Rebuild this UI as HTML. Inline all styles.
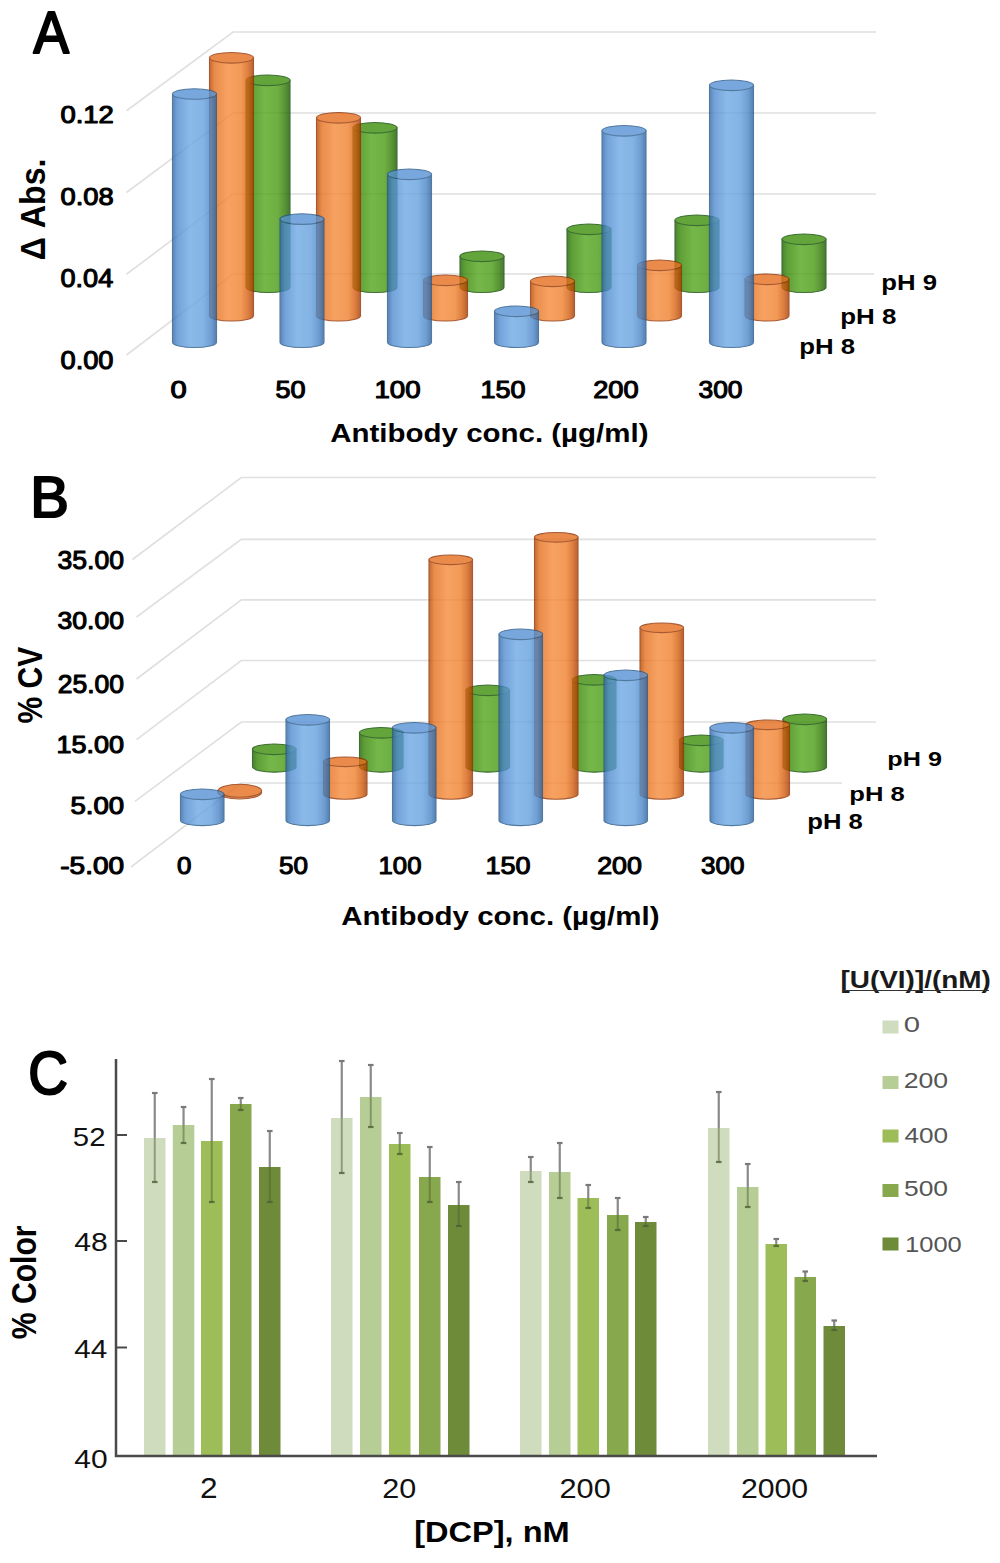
<!DOCTYPE html><html><head><meta charset="utf-8"><style>
html,body{margin:0;padding:0;background:#fff;width:1000px;height:1563px;overflow:hidden}
svg{display:block;font-family:"Liberation Sans", sans-serif}
</style></head><body>
<svg width="1000" height="1563" viewBox="0 0 1000 1563">
<defs><linearGradient id="grb" x1="0" x2="1" y1="0" y2="0"><stop offset="0" stop-color="#3168A6"/><stop offset="0.12" stop-color="#518DD1"/><stop offset="0.4" stop-color="#6EA9E5"/><stop offset="0.7" stop-color="#65A1DE"/><stop offset="0.88" stop-color="#4A86C7"/><stop offset="1" stop-color="#2B609F"/></linearGradient><linearGradient id="gro" x1="0" x2="1" y1="0" y2="0"><stop offset="0" stop-color="#B54500"/><stop offset="0.12" stop-color="#E5711F"/><stop offset="0.42" stop-color="#F68B3B"/><stop offset="0.72" stop-color="#F0812D"/><stop offset="0.88" stop-color="#D45E0F"/><stop offset="1" stop-color="#A63B00"/></linearGradient><linearGradient id="grg" x1="0" x2="1" y1="0" y2="0"><stop offset="0" stop-color="#1D6300"/><stop offset="0.12" stop-color="#388806"/><stop offset="0.42" stop-color="#54A61D"/><stop offset="0.72" stop-color="#4A9C14"/><stop offset="0.88" stop-color="#317B03"/><stop offset="1" stop-color="#175900"/></linearGradient></defs>
<rect width="1000" height="1563" fill="#fff"/>

<path d="M126.5,110.7 L233,32 L876,32" fill="none" stroke="#E0E0E0" stroke-width="1.7"/>
<path d="M126.5,192.5 L233,113 L876,113" fill="none" stroke="#E0E0E0" stroke-width="1.7"/>
<path d="M126.5,274.3 L233,194 L876,194" fill="none" stroke="#E0E0E0" stroke-width="1.7"/>
<path d="M126.5,355 L233,274 L874,274" fill="none" stroke="#E0E0E0" stroke-width="1.7"/>
<g opacity="0.8"><path d="M246.0,80.3 L246.0,287.2 A22.0,5.3 0 0 0 290.0,287.2 L290.0,80.3 Z" fill="url(#grg)" stroke="#0D4A00" stroke-width="1.1"/><ellipse cx="268.0" cy="80.3" rx="22.0" ry="5.3" fill="#3D8E0B" stroke="#0D4A00" stroke-width="1.1"/></g>
<g opacity="0.8"><path d="M353.0,127.8 L353.0,287.2 A22.0,5.3 0 0 0 397.0,287.2 L397.0,127.8 Z" fill="url(#grg)" stroke="#0D4A00" stroke-width="1.1"/><ellipse cx="375.0" cy="127.8" rx="22.0" ry="5.3" fill="#3D8E0B" stroke="#0D4A00" stroke-width="1.1"/></g>
<g opacity="0.8"><path d="M460.0,256.3 L460.0,287.2 A22.0,5.3 0 0 0 504.0,287.2 L504.0,256.3 Z" fill="url(#grg)" stroke="#0D4A00" stroke-width="1.1"/><ellipse cx="482.0" cy="256.3" rx="22.0" ry="5.3" fill="#3D8E0B" stroke="#0D4A00" stroke-width="1.1"/></g>
<g opacity="0.8"><path d="M567.0,229.3 L567.0,287.2 A22.0,5.3 0 0 0 611.0,287.2 L611.0,229.3 Z" fill="url(#grg)" stroke="#0D4A00" stroke-width="1.1"/><ellipse cx="589.0" cy="229.3" rx="22.0" ry="5.3" fill="#3D8E0B" stroke="#0D4A00" stroke-width="1.1"/></g>
<g opacity="0.8"><path d="M675.0,220.3 L675.0,287.2 A22.0,5.3 0 0 0 719.0,287.2 L719.0,220.3 Z" fill="url(#grg)" stroke="#0D4A00" stroke-width="1.1"/><ellipse cx="697.0" cy="220.3" rx="22.0" ry="5.3" fill="#3D8E0B" stroke="#0D4A00" stroke-width="1.1"/></g>
<g opacity="0.8"><path d="M782.0,239.3 L782.0,287.2 A22.0,5.3 0 0 0 826.0,287.2 L826.0,239.3 Z" fill="url(#grg)" stroke="#0D4A00" stroke-width="1.1"/><ellipse cx="804.0" cy="239.3" rx="22.0" ry="5.3" fill="#3D8E0B" stroke="#0D4A00" stroke-width="1.1"/></g>
<g opacity="0.8"><path d="M209.5,57.8 L209.5,315.7 A22.0,5.3 0 0 0 253.5,315.7 L253.5,57.8 Z" fill="url(#gro)" stroke="#923100" stroke-width="1.1"/><ellipse cx="231.5" cy="57.8" rx="22.0" ry="5.3" fill="#E56F1F" stroke="#923100" stroke-width="1.1"/></g>
<g opacity="0.8"><path d="M316.5,117.8 L316.5,315.7 A22.0,5.3 0 0 0 360.5,315.7 L360.5,117.8 Z" fill="url(#gro)" stroke="#923100" stroke-width="1.1"/><ellipse cx="338.5" cy="117.8" rx="22.0" ry="5.3" fill="#E56F1F" stroke="#923100" stroke-width="1.1"/></g>
<g opacity="0.8"><path d="M423.5,280.3 L423.5,315.7 A22.0,5.3 0 0 0 467.5,315.7 L467.5,280.3 Z" fill="url(#gro)" stroke="#923100" stroke-width="1.1"/><ellipse cx="445.5" cy="280.3" rx="22.0" ry="5.3" fill="#E56F1F" stroke="#923100" stroke-width="1.1"/></g>
<g opacity="0.8"><path d="M530.5,281.3 L530.5,315.7 A22.0,5.3 0 0 0 574.5,315.7 L574.5,281.3 Z" fill="url(#gro)" stroke="#923100" stroke-width="1.1"/><ellipse cx="552.5" cy="281.3" rx="22.0" ry="5.3" fill="#E56F1F" stroke="#923100" stroke-width="1.1"/></g>
<g opacity="0.8"><path d="M637.5,265.3 L637.5,315.7 A22.0,5.3 0 0 0 681.5,315.7 L681.5,265.3 Z" fill="url(#gro)" stroke="#923100" stroke-width="1.1"/><ellipse cx="659.5" cy="265.3" rx="22.0" ry="5.3" fill="#E56F1F" stroke="#923100" stroke-width="1.1"/></g>
<g opacity="0.8"><path d="M745.0,279.3 L745.0,315.7 A22.0,5.3 0 0 0 789.0,315.7 L789.0,279.3 Z" fill="url(#gro)" stroke="#923100" stroke-width="1.1"/><ellipse cx="767.0" cy="279.3" rx="22.0" ry="5.3" fill="#E56F1F" stroke="#923100" stroke-width="1.1"/></g>
<g opacity="0.8"><path d="M172.5,94.0 L172.5,342.2 A22.0,5.3 0 0 0 216.5,342.2 L216.5,94.0 Z" fill="url(#grb)" stroke="#275887" stroke-width="1.1"/><ellipse cx="194.5" cy="94.0" rx="22.0" ry="5.3" fill="#5692D4" stroke="#275887" stroke-width="1.1"/></g>
<g opacity="0.8"><path d="M280.0,219.1 L280.0,342.2 A22.0,5.3 0 0 0 324.0,342.2 L324.0,219.1 Z" fill="url(#grb)" stroke="#275887" stroke-width="1.1"/><ellipse cx="302.0" cy="219.1" rx="22.0" ry="5.3" fill="#5692D4" stroke="#275887" stroke-width="1.1"/></g>
<g opacity="0.8"><path d="M387.5,174.3 L387.5,342.2 A22.0,5.3 0 0 0 431.5,342.2 L431.5,174.3 Z" fill="url(#grb)" stroke="#275887" stroke-width="1.1"/><ellipse cx="409.5" cy="174.3" rx="22.0" ry="5.3" fill="#5692D4" stroke="#275887" stroke-width="1.1"/></g>
<g opacity="0.8"><path d="M494.5,311.3 L494.5,342.2 A22.0,5.3 0 0 0 538.5,342.2 L538.5,311.3 Z" fill="url(#grb)" stroke="#275887" stroke-width="1.1"/><ellipse cx="516.5" cy="311.3" rx="22.0" ry="5.3" fill="#5692D4" stroke="#275887" stroke-width="1.1"/></g>
<g opacity="0.8"><path d="M602.0,130.8 L602.0,342.2 A22.0,5.3 0 0 0 646.0,342.2 L646.0,130.8 Z" fill="url(#grb)" stroke="#275887" stroke-width="1.1"/><ellipse cx="624.0" cy="130.8" rx="22.0" ry="5.3" fill="#5692D4" stroke="#275887" stroke-width="1.1"/></g>
<g opacity="0.8"><path d="M709.5,85.3 L709.5,342.2 A22.0,5.3 0 0 0 753.5,342.2 L753.5,85.3 Z" fill="url(#grb)" stroke="#275887" stroke-width="1.1"/><ellipse cx="731.5" cy="85.3" rx="22.0" ry="5.3" fill="#5692D4" stroke="#275887" stroke-width="1.1"/></g>
<text x="33.50" y="52.90" font-size="59.30" font-weight="normal" fill="#000" stroke="#000" stroke-width="2.2" stroke-linejoin="round" textLength="35.51" lengthAdjust="spacingAndGlyphs">A</text>
<text x="60.48" y="123.22" font-size="23.87" font-weight="normal" fill="#000" stroke="#000" stroke-width="1.1" stroke-linejoin="round" textLength="53.35" lengthAdjust="spacingAndGlyphs">0.12</text>
<text x="60.48" y="205.21" font-size="24.58" font-weight="normal" fill="#000" stroke="#000" stroke-width="1.1" stroke-linejoin="round" textLength="53.15" lengthAdjust="spacingAndGlyphs">0.08</text>
<text x="60.49" y="287.20" font-size="25.99" font-weight="normal" fill="#000" stroke="#000" stroke-width="1.1" stroke-linejoin="round" textLength="52.75" lengthAdjust="spacingAndGlyphs">0.04</text>
<text x="60.49" y="368.70" font-size="25.28" font-weight="normal" fill="#000" stroke="#000" stroke-width="1.1" stroke-linejoin="round" textLength="53.03" lengthAdjust="spacingAndGlyphs">0.00</text>
<text x="170.41" y="398.22" font-size="23.87" font-weight="normal" fill="#000" stroke="#000" stroke-width="1.1" stroke-linejoin="round" textLength="16.17" lengthAdjust="spacingAndGlyphs">0</text>
<text x="275.47" y="398.22" font-size="23.87" font-weight="normal" fill="#000" stroke="#000" stroke-width="1.1" stroke-linejoin="round" textLength="30.04" lengthAdjust="spacingAndGlyphs">50</text>
<text x="374.45" y="398.22" font-size="23.87" font-weight="normal" fill="#000" stroke="#000" stroke-width="1.1" stroke-linejoin="round" textLength="46.08" lengthAdjust="spacingAndGlyphs">100</text>
<text x="480.50" y="398.22" font-size="23.87" font-weight="normal" fill="#000" stroke="#000" stroke-width="1.1" stroke-linejoin="round" textLength="45.01" lengthAdjust="spacingAndGlyphs">150</text>
<text x="593.18" y="398.22" font-size="23.87" font-weight="normal" fill="#000" stroke="#000" stroke-width="1.1" stroke-linejoin="round" textLength="45.33" lengthAdjust="spacingAndGlyphs">200</text>
<text x="698.55" y="398.22" font-size="23.87" font-weight="normal" fill="#000" stroke="#000" stroke-width="1.1" stroke-linejoin="round" textLength="43.93" lengthAdjust="spacingAndGlyphs">300</text>
<text x="330.27" y="442.00" font-size="26.22" font-weight="bold" fill="#000" textLength="318.20" lengthAdjust="spacingAndGlyphs">Antibody conc. (µg/ml)</text>
<text transform="rotate(-90)" x="-260.30" y="44.95" font-size="35.81" font-weight="bold" fill="#000" textLength="101.82" lengthAdjust="spacingAndGlyphs">Δ Abs.</text>
<text x="881.31" y="290.00" font-size="21.48" font-weight="bold" fill="#000" textLength="55.65" lengthAdjust="spacingAndGlyphs">pH 9</text>
<text x="840.29" y="324.00" font-size="22.91" font-weight="bold" fill="#000" textLength="56.10" lengthAdjust="spacingAndGlyphs">pH 8</text>
<text x="799.30" y="354.00" font-size="21.48" font-weight="bold" fill="#000" textLength="55.89" lengthAdjust="spacingAndGlyphs">pH 8</text>
<path d="M132.5,559.5 L241.3,477.5 L876,477.5" fill="none" stroke="#E0E0E0" stroke-width="1.7"/>
<path d="M136.5,617 L241.3,539.3 L876,539.3" fill="none" stroke="#E0E0E0" stroke-width="1.7"/>
<path d="M136.5,679 L241.3,599.8 L876,599.8" fill="none" stroke="#E0E0E0" stroke-width="1.7"/>
<path d="M136.5,739.6 L241.3,660.5 L876,660.5" fill="none" stroke="#E0E0E0" stroke-width="1.7"/>
<path d="M135,801.4 L241.3,722 L876,722" fill="none" stroke="#E0E0E0" stroke-width="1.7"/>
<path d="M131,867 L241.3,783 L842,783" fill="none" stroke="#E0E0E0" stroke-width="1.7"/>
<g opacity="0.8"><path d="M252.5,749.3 L252.5,767.2 A21.8,5.3 0 0 0 296.0,767.2 L296.0,749.3 Z" fill="url(#grg)" stroke="#0D4A00" stroke-width="1.1"/><ellipse cx="274.2" cy="749.3" rx="21.8" ry="5.3" fill="#3D8E0B" stroke="#0D4A00" stroke-width="1.1"/></g>
<g opacity="0.8"><path d="M359.5,732.8 L359.5,767.2 A21.8,5.3 0 0 0 403.0,767.2 L403.0,732.8 Z" fill="url(#grg)" stroke="#0D4A00" stroke-width="1.1"/><ellipse cx="381.2" cy="732.8" rx="21.8" ry="5.3" fill="#3D8E0B" stroke="#0D4A00" stroke-width="1.1"/></g>
<g opacity="0.8"><path d="M466.0,690.3 L466.0,767.2 A21.8,5.3 0 0 0 509.5,767.2 L509.5,690.3 Z" fill="url(#grg)" stroke="#0D4A00" stroke-width="1.1"/><ellipse cx="487.8" cy="690.3" rx="21.8" ry="5.3" fill="#3D8E0B" stroke="#0D4A00" stroke-width="1.1"/></g>
<g opacity="0.8"><path d="M572.5,679.8 L572.5,767.2 A21.8,5.3 0 0 0 616.0,767.2 L616.0,679.8 Z" fill="url(#grg)" stroke="#0D4A00" stroke-width="1.1"/><ellipse cx="594.2" cy="679.8" rx="21.8" ry="5.3" fill="#3D8E0B" stroke="#0D4A00" stroke-width="1.1"/></g>
<g opacity="0.8"><path d="M679.5,740.3 L679.5,767.2 A21.8,5.3 0 0 0 723.0,767.2 L723.0,740.3 Z" fill="url(#grg)" stroke="#0D4A00" stroke-width="1.1"/><ellipse cx="701.2" cy="740.3" rx="21.8" ry="5.3" fill="#3D8E0B" stroke="#0D4A00" stroke-width="1.1"/></g>
<g opacity="0.8"><path d="M783.0,719.3 L783.0,767.2 A21.8,5.3 0 0 0 826.5,767.2 L826.5,719.3 Z" fill="url(#grg)" stroke="#0D4A00" stroke-width="1.1"/><ellipse cx="804.8" cy="719.3" rx="21.8" ry="5.3" fill="#3D8E0B" stroke="#0D4A00" stroke-width="1.1"/></g>
<g opacity="0.8"><path d="M218.0,790.8 L218.0,793.0 A21.8,6.5 0 0 0 261.5,793.0 L261.5,790.8 Z" fill="url(#gro)" stroke="#923100" stroke-width="1.1"/><ellipse cx="239.8" cy="790.8" rx="21.8" ry="6.5" fill="#E56F1F" stroke="#923100" stroke-width="1.1"/></g>
<g opacity="0.8"><path d="M323.5,761.8 L323.5,794.7 A21.8,4.8 0 0 0 367.0,794.7 L367.0,761.8 Z" fill="url(#gro)" stroke="#923100" stroke-width="1.1"/><ellipse cx="345.2" cy="761.8" rx="21.8" ry="4.8" fill="#E56F1F" stroke="#923100" stroke-width="1.1"/></g>
<g opacity="0.8"><path d="M429.0,559.8 L429.0,794.7 A21.8,4.8 0 0 0 472.5,794.7 L472.5,559.8 Z" fill="url(#gro)" stroke="#923100" stroke-width="1.1"/><ellipse cx="450.8" cy="559.8" rx="21.8" ry="4.8" fill="#E56F1F" stroke="#923100" stroke-width="1.1"/></g>
<g opacity="0.8"><path d="M534.5,537.3 L534.5,794.7 A21.8,4.8 0 0 0 578.0,794.7 L578.0,537.3 Z" fill="url(#gro)" stroke="#923100" stroke-width="1.1"/><ellipse cx="556.2" cy="537.3" rx="21.8" ry="4.8" fill="#E56F1F" stroke="#923100" stroke-width="1.1"/></g>
<g opacity="0.8"><path d="M640.0,627.8 L640.0,794.7 A21.8,4.8 0 0 0 683.5,794.7 L683.5,627.8 Z" fill="url(#gro)" stroke="#923100" stroke-width="1.1"/><ellipse cx="661.8" cy="627.8" rx="21.8" ry="4.8" fill="#E56F1F" stroke="#923100" stroke-width="1.1"/></g>
<g opacity="0.8"><path d="M746.0,724.8 L746.0,794.7 A21.8,4.8 0 0 0 789.5,794.7 L789.5,724.8 Z" fill="url(#gro)" stroke="#923100" stroke-width="1.1"/><ellipse cx="767.8" cy="724.8" rx="21.8" ry="4.8" fill="#E56F1F" stroke="#923100" stroke-width="1.1"/></g>
<g opacity="0.8"><path d="M180.5,794.3 L180.5,820.7 A21.8,5.3 0 0 0 224.0,820.7 L224.0,794.3 Z" fill="url(#grb)" stroke="#275887" stroke-width="1.1"/><ellipse cx="202.2" cy="794.3" rx="21.8" ry="5.3" fill="#5692D4" stroke="#275887" stroke-width="1.1"/></g>
<g opacity="0.8"><path d="M286.0,719.8 L286.0,820.7 A21.8,5.3 0 0 0 329.5,820.7 L329.5,719.8 Z" fill="url(#grb)" stroke="#275887" stroke-width="1.1"/><ellipse cx="307.8" cy="719.8" rx="21.8" ry="5.3" fill="#5692D4" stroke="#275887" stroke-width="1.1"/></g>
<g opacity="0.8"><path d="M392.5,727.8 L392.5,820.7 A21.8,5.3 0 0 0 436.0,820.7 L436.0,727.8 Z" fill="url(#grb)" stroke="#275887" stroke-width="1.1"/><ellipse cx="414.2" cy="727.8" rx="21.8" ry="5.3" fill="#5692D4" stroke="#275887" stroke-width="1.1"/></g>
<g opacity="0.8"><path d="M499.0,634.3 L499.0,820.7 A21.8,5.3 0 0 0 542.5,820.7 L542.5,634.3 Z" fill="url(#grb)" stroke="#275887" stroke-width="1.1"/><ellipse cx="520.8" cy="634.3" rx="21.8" ry="5.3" fill="#5692D4" stroke="#275887" stroke-width="1.1"/></g>
<g opacity="0.8"><path d="M604.0,675.3 L604.0,820.7 A21.8,5.3 0 0 0 647.5,820.7 L647.5,675.3 Z" fill="url(#grb)" stroke="#275887" stroke-width="1.1"/><ellipse cx="625.8" cy="675.3" rx="21.8" ry="5.3" fill="#5692D4" stroke="#275887" stroke-width="1.1"/></g>
<g opacity="0.8"><path d="M710.0,727.8 L710.0,820.7 A21.8,5.3 0 0 0 753.5,820.7 L753.5,727.8 Z" fill="url(#grb)" stroke="#275887" stroke-width="1.1"/><ellipse cx="731.8" cy="727.8" rx="21.8" ry="5.3" fill="#5692D4" stroke="#275887" stroke-width="1.1"/></g>
<text x="30.35" y="516.90" font-size="57.85" font-weight="normal" fill="#000" stroke="#000" stroke-width="2.2" stroke-linejoin="round" textLength="38.60" lengthAdjust="spacingAndGlyphs">B</text>
<text x="57.54" y="569.20" font-size="25.99" font-weight="normal" fill="#000" stroke="#000" stroke-width="1.1" stroke-linejoin="round" textLength="66.45" lengthAdjust="spacingAndGlyphs">35.00</text>
<text x="57.54" y="629.21" font-size="24.58" font-weight="normal" fill="#000" stroke="#000" stroke-width="1.1" stroke-linejoin="round" textLength="66.45" lengthAdjust="spacingAndGlyphs">30.00</text>
<text x="57.72" y="693.20" font-size="25.28" font-weight="normal" fill="#000" stroke="#000" stroke-width="1.1" stroke-linejoin="round" textLength="66.27" lengthAdjust="spacingAndGlyphs">25.00</text>
<text x="56.50" y="753.22" font-size="23.87" font-weight="normal" fill="#000" stroke="#000" stroke-width="1.1" stroke-linejoin="round" textLength="67.51" lengthAdjust="spacingAndGlyphs">15.00</text>
<text x="70.45" y="814.22" font-size="23.16" font-weight="normal" fill="#000" stroke="#000" stroke-width="1.1" stroke-linejoin="round" textLength="53.58" lengthAdjust="spacingAndGlyphs">5.00</text>
<text x="60.31" y="874.22" font-size="23.16" font-weight="normal" fill="#000" stroke="#000" stroke-width="1.1" stroke-linejoin="round" textLength="63.73" lengthAdjust="spacingAndGlyphs">-5.00</text>
<text x="177.04" y="873.71" font-size="24.58" font-weight="normal" fill="#000" stroke="#000" stroke-width="1.1" stroke-linejoin="round" textLength="14.43" lengthAdjust="spacingAndGlyphs">0</text>
<text x="279.01" y="873.71" font-size="24.58" font-weight="normal" fill="#000" stroke="#000" stroke-width="1.1" stroke-linejoin="round" textLength="28.96" lengthAdjust="spacingAndGlyphs">50</text>
<text x="378.59" y="873.71" font-size="24.58" font-weight="normal" fill="#000" stroke="#000" stroke-width="1.1" stroke-linejoin="round" textLength="42.86" lengthAdjust="spacingAndGlyphs">100</text>
<text x="485.50" y="873.71" font-size="24.58" font-weight="normal" fill="#000" stroke="#000" stroke-width="1.1" stroke-linejoin="round" textLength="45.01" lengthAdjust="spacingAndGlyphs">150</text>
<text x="597.20" y="873.71" font-size="24.58" font-weight="normal" fill="#000" stroke="#000" stroke-width="1.1" stroke-linejoin="round" textLength="44.80" lengthAdjust="spacingAndGlyphs">200</text>
<text x="701.06" y="873.71" font-size="24.58" font-weight="normal" fill="#000" stroke="#000" stroke-width="1.1" stroke-linejoin="round" textLength="43.41" lengthAdjust="spacingAndGlyphs">300</text>
<text x="341.27" y="925.00" font-size="26.22" font-weight="bold" fill="#000" textLength="318.20" lengthAdjust="spacingAndGlyphs">Antibody conc. (µg/ml)</text>
<text transform="rotate(-90)" x="-723.55" y="41.85" font-size="35.59" font-weight="bold" fill="#000" textLength="76.85" lengthAdjust="spacingAndGlyphs">% CV</text>
<text x="887.34" y="766.00" font-size="20.05" font-weight="bold" fill="#000" textLength="54.60" lengthAdjust="spacingAndGlyphs">pH 9</text>
<text x="849.31" y="801.00" font-size="20.05" font-weight="bold" fill="#000" textLength="55.48" lengthAdjust="spacingAndGlyphs">pH 8</text>
<text x="807.31" y="829.00" font-size="21.48" font-weight="bold" fill="#000" textLength="55.47" lengthAdjust="spacingAndGlyphs">pH 8</text>
<rect x="144" y="1138" width="21.5" height="317" fill="#CFDCBE"/>
<rect x="172.8" y="1125" width="21.5" height="330" fill="#B7CD96"/>
<rect x="201" y="1141" width="21.5" height="314" fill="#9CBD57"/>
<rect x="230" y="1104" width="21.5" height="351" fill="#87A84C"/>
<rect x="259" y="1167" width="21.5" height="288" fill="#6D8B39"/>
<rect x="331" y="1118" width="21.5" height="337" fill="#CFDCBE"/>
<rect x="360" y="1097" width="21.5" height="358" fill="#B7CD96"/>
<rect x="389" y="1144" width="21.5" height="311" fill="#9CBD57"/>
<rect x="419" y="1177" width="21.5" height="278" fill="#87A84C"/>
<rect x="448" y="1205" width="21.5" height="250" fill="#6D8B39"/>
<rect x="520" y="1171" width="21.5" height="284" fill="#CFDCBE"/>
<rect x="549" y="1172" width="21.5" height="283" fill="#B7CD96"/>
<rect x="577.5" y="1198" width="21.5" height="257" fill="#9CBD57"/>
<rect x="607" y="1215" width="21.5" height="240" fill="#87A84C"/>
<rect x="635" y="1222" width="21.5" height="233" fill="#6D8B39"/>
<rect x="708" y="1128" width="21.5" height="327" fill="#CFDCBE"/>
<rect x="737" y="1187" width="21.5" height="268" fill="#B7CD96"/>
<rect x="765.5" y="1244" width="21.5" height="211" fill="#9CBD57"/>
<rect x="794.5" y="1277" width="21.5" height="178" fill="#87A84C"/>
<rect x="823.5" y="1326" width="21.5" height="129" fill="#6D8B39"/>
<path d="M154.75,1093 L154.75,1138" stroke="#8A8A8A" stroke-width="2.2" fill="none"/>
<path d="M154.75,1138 L154.75,1182" stroke="#4F5F35" stroke-width="2" fill="none" opacity="0.5"/>
<path d="M151.95,1093 L157.55,1093" stroke="#7A7A7A" stroke-width="2.2"/>
<path d="M151.95,1182 L157.55,1182" stroke="#4F5F35" stroke-width="2.2" opacity="0.8"/>
<path d="M183.55,1107 L183.55,1125" stroke="#8A8A8A" stroke-width="2.2" fill="none"/>
<path d="M183.55,1125 L183.55,1143" stroke="#4F5F35" stroke-width="2" fill="none" opacity="0.5"/>
<path d="M180.75,1107 L186.35000000000002,1107" stroke="#7A7A7A" stroke-width="2.2"/>
<path d="M180.75,1143 L186.35000000000002,1143" stroke="#4F5F35" stroke-width="2.2" opacity="0.8"/>
<path d="M211.75,1079 L211.75,1141" stroke="#8A8A8A" stroke-width="2.2" fill="none"/>
<path d="M211.75,1141 L211.75,1202" stroke="#4F5F35" stroke-width="2" fill="none" opacity="0.5"/>
<path d="M208.95,1079 L214.55,1079" stroke="#7A7A7A" stroke-width="2.2"/>
<path d="M208.95,1202 L214.55,1202" stroke="#4F5F35" stroke-width="2.2" opacity="0.8"/>
<path d="M240.75,1098 L240.75,1104" stroke="#8A8A8A" stroke-width="2.2" fill="none"/>
<path d="M240.75,1104 L240.75,1110" stroke="#4F5F35" stroke-width="2" fill="none" opacity="0.5"/>
<path d="M237.95,1098 L243.55,1098" stroke="#7A7A7A" stroke-width="2.2"/>
<path d="M237.95,1110 L243.55,1110" stroke="#4F5F35" stroke-width="2.2" opacity="0.8"/>
<path d="M269.75,1131 L269.75,1167" stroke="#8A8A8A" stroke-width="2.2" fill="none"/>
<path d="M269.75,1167 L269.75,1202" stroke="#4F5F35" stroke-width="2" fill="none" opacity="0.5"/>
<path d="M266.95,1131 L272.55,1131" stroke="#7A7A7A" stroke-width="2.2"/>
<path d="M266.95,1202 L272.55,1202" stroke="#4F5F35" stroke-width="2.2" opacity="0.8"/>
<path d="M341.75,1061 L341.75,1118" stroke="#8A8A8A" stroke-width="2.2" fill="none"/>
<path d="M341.75,1118 L341.75,1173" stroke="#4F5F35" stroke-width="2" fill="none" opacity="0.5"/>
<path d="M338.95,1061 L344.55,1061" stroke="#7A7A7A" stroke-width="2.2"/>
<path d="M338.95,1173 L344.55,1173" stroke="#4F5F35" stroke-width="2.2" opacity="0.8"/>
<path d="M370.75,1065 L370.75,1097" stroke="#8A8A8A" stroke-width="2.2" fill="none"/>
<path d="M370.75,1097 L370.75,1127" stroke="#4F5F35" stroke-width="2" fill="none" opacity="0.5"/>
<path d="M367.95,1065 L373.55,1065" stroke="#7A7A7A" stroke-width="2.2"/>
<path d="M367.95,1127 L373.55,1127" stroke="#4F5F35" stroke-width="2.2" opacity="0.8"/>
<path d="M399.75,1133 L399.75,1144" stroke="#8A8A8A" stroke-width="2.2" fill="none"/>
<path d="M399.75,1144 L399.75,1154" stroke="#4F5F35" stroke-width="2" fill="none" opacity="0.5"/>
<path d="M396.95,1133 L402.55,1133" stroke="#7A7A7A" stroke-width="2.2"/>
<path d="M396.95,1154 L402.55,1154" stroke="#4F5F35" stroke-width="2.2" opacity="0.8"/>
<path d="M429.75,1147 L429.75,1177" stroke="#8A8A8A" stroke-width="2.2" fill="none"/>
<path d="M429.75,1177 L429.75,1202" stroke="#4F5F35" stroke-width="2" fill="none" opacity="0.5"/>
<path d="M426.95,1147 L432.55,1147" stroke="#7A7A7A" stroke-width="2.2"/>
<path d="M426.95,1202 L432.55,1202" stroke="#4F5F35" stroke-width="2.2" opacity="0.8"/>
<path d="M458.75,1182 L458.75,1205" stroke="#8A8A8A" stroke-width="2.2" fill="none"/>
<path d="M458.75,1205 L458.75,1226" stroke="#4F5F35" stroke-width="2" fill="none" opacity="0.5"/>
<path d="M455.95,1182 L461.55,1182" stroke="#7A7A7A" stroke-width="2.2"/>
<path d="M455.95,1226 L461.55,1226" stroke="#4F5F35" stroke-width="2.2" opacity="0.8"/>
<path d="M530.75,1157 L530.75,1171" stroke="#8A8A8A" stroke-width="2.2" fill="none"/>
<path d="M530.75,1171 L530.75,1182" stroke="#4F5F35" stroke-width="2" fill="none" opacity="0.5"/>
<path d="M527.95,1157 L533.55,1157" stroke="#7A7A7A" stroke-width="2.2"/>
<path d="M527.95,1182 L533.55,1182" stroke="#4F5F35" stroke-width="2.2" opacity="0.8"/>
<path d="M559.75,1143 L559.75,1172" stroke="#8A8A8A" stroke-width="2.2" fill="none"/>
<path d="M559.75,1172 L559.75,1198" stroke="#4F5F35" stroke-width="2" fill="none" opacity="0.5"/>
<path d="M556.95,1143 L562.55,1143" stroke="#7A7A7A" stroke-width="2.2"/>
<path d="M556.95,1198 L562.55,1198" stroke="#4F5F35" stroke-width="2.2" opacity="0.8"/>
<path d="M588.25,1185 L588.25,1198" stroke="#8A8A8A" stroke-width="2.2" fill="none"/>
<path d="M588.25,1198 L588.25,1208" stroke="#4F5F35" stroke-width="2" fill="none" opacity="0.5"/>
<path d="M585.45,1185 L591.05,1185" stroke="#7A7A7A" stroke-width="2.2"/>
<path d="M585.45,1208 L591.05,1208" stroke="#4F5F35" stroke-width="2.2" opacity="0.8"/>
<path d="M617.75,1198 L617.75,1215" stroke="#8A8A8A" stroke-width="2.2" fill="none"/>
<path d="M617.75,1215 L617.75,1230" stroke="#4F5F35" stroke-width="2" fill="none" opacity="0.5"/>
<path d="M614.95,1198 L620.55,1198" stroke="#7A7A7A" stroke-width="2.2"/>
<path d="M614.95,1230 L620.55,1230" stroke="#4F5F35" stroke-width="2.2" opacity="0.8"/>
<path d="M645.75,1217 L645.75,1222" stroke="#8A8A8A" stroke-width="2.2" fill="none"/>
<path d="M645.75,1222 L645.75,1226" stroke="#4F5F35" stroke-width="2" fill="none" opacity="0.5"/>
<path d="M642.95,1217 L648.55,1217" stroke="#7A7A7A" stroke-width="2.2"/>
<path d="M642.95,1226 L648.55,1226" stroke="#4F5F35" stroke-width="2.2" opacity="0.8"/>
<path d="M718.75,1092 L718.75,1128" stroke="#8A8A8A" stroke-width="2.2" fill="none"/>
<path d="M718.75,1128 L718.75,1162" stroke="#4F5F35" stroke-width="2" fill="none" opacity="0.5"/>
<path d="M715.95,1092 L721.55,1092" stroke="#7A7A7A" stroke-width="2.2"/>
<path d="M715.95,1162 L721.55,1162" stroke="#4F5F35" stroke-width="2.2" opacity="0.8"/>
<path d="M747.75,1164 L747.75,1187" stroke="#8A8A8A" stroke-width="2.2" fill="none"/>
<path d="M747.75,1187 L747.75,1207" stroke="#4F5F35" stroke-width="2" fill="none" opacity="0.5"/>
<path d="M744.95,1164 L750.55,1164" stroke="#7A7A7A" stroke-width="2.2"/>
<path d="M744.95,1207 L750.55,1207" stroke="#4F5F35" stroke-width="2.2" opacity="0.8"/>
<path d="M776.25,1239 L776.25,1244" stroke="#8A8A8A" stroke-width="2.2" fill="none"/>
<path d="M776.25,1244 L776.25,1246" stroke="#4F5F35" stroke-width="2" fill="none" opacity="0.5"/>
<path d="M773.45,1239 L779.05,1239" stroke="#7A7A7A" stroke-width="2.2"/>
<path d="M773.45,1246 L779.05,1246" stroke="#4F5F35" stroke-width="2.2" opacity="0.8"/>
<path d="M805.25,1271.5 L805.25,1277" stroke="#8A8A8A" stroke-width="2.2" fill="none"/>
<path d="M805.25,1277 L805.25,1281" stroke="#4F5F35" stroke-width="2" fill="none" opacity="0.5"/>
<path d="M802.45,1271.5 L808.05,1271.5" stroke="#7A7A7A" stroke-width="2.2"/>
<path d="M802.45,1281 L808.05,1281" stroke="#4F5F35" stroke-width="2.2" opacity="0.8"/>
<path d="M834.25,1320.5 L834.25,1326" stroke="#8A8A8A" stroke-width="2.2" fill="none"/>
<path d="M834.25,1326 L834.25,1330" stroke="#4F5F35" stroke-width="2" fill="none" opacity="0.5"/>
<path d="M831.45,1320.5 L837.05,1320.5" stroke="#7A7A7A" stroke-width="2.2"/>
<path d="M831.45,1330 L837.05,1330" stroke="#4F5F35" stroke-width="2.2" opacity="0.8"/>
<path d="M116,1059 L116,1456 L877,1456" fill="none" stroke="#4A4A4A" stroke-width="2.5"/>
<path d="M116,1135 L127,1135" stroke="#4A4A4A" stroke-width="2"/>
<path d="M116,1241 L127,1241" stroke="#4A4A4A" stroke-width="2"/>
<path d="M116,1347.5 L127,1347.5" stroke="#4A4A4A" stroke-width="2"/>
<text x="28.31" y="1094.30" font-size="61.86" font-weight="normal" fill="#000" stroke="#000" stroke-width="2.2" stroke-linejoin="round" textLength="39.68" lengthAdjust="spacingAndGlyphs">C</text>
<text x="72.82" y="1145.75" font-size="25.42" font-weight="normal" fill="#111" textLength="32.65" lengthAdjust="spacingAndGlyphs">52</text>
<text x="74.31" y="1250.75" font-size="25.42" font-weight="normal" fill="#111" textLength="33.50" lengthAdjust="spacingAndGlyphs">48</text>
<text x="74.32" y="1358.00" font-size="26.16" font-weight="normal" fill="#111" textLength="33.05" lengthAdjust="spacingAndGlyphs">44</text>
<text x="74.31" y="1468.24" font-size="26.13" font-weight="normal" fill="#111" textLength="33.36" lengthAdjust="spacingAndGlyphs">40</text>
<text x="200.01" y="1498.00" font-size="28.64" font-weight="normal" fill="#111" textLength="17.58" lengthAdjust="spacingAndGlyphs">2</text>
<text x="382.21" y="1497.72" font-size="28.25" font-weight="normal" fill="#111" textLength="33.98" lengthAdjust="spacingAndGlyphs">20</text>
<text x="559.45" y="1497.72" font-size="28.25" font-weight="normal" fill="#111" textLength="51.35" lengthAdjust="spacingAndGlyphs">200</text>
<text x="740.98" y="1497.72" font-size="28.25" font-weight="normal" fill="#111" textLength="67.20" lengthAdjust="spacingAndGlyphs">2000</text>
<text x="414.17" y="1542.00" font-size="30.36" font-weight="bold" fill="#000" textLength="155.51" lengthAdjust="spacingAndGlyphs">[DCP], nM</text>
<text transform="rotate(-90)" x="-1339.15" y="36.25" font-size="35.54" font-weight="bold" fill="#000" textLength="113.60" lengthAdjust="spacingAndGlyphs">% Color</text>
<text x="840.43" y="988.00" font-size="24.84" font-weight="bold" fill="#1A1A1A" textLength="150.46" lengthAdjust="spacingAndGlyphs">[U(VI)]/(nM)</text>
<path d="M842,990.5 L989,990.5" stroke="#333" stroke-width="1.2"/>
<rect x="882.5" y="1020.5" width="16" height="13" fill="#CFDCBE"/>
<text x="903.86" y="1031.79" font-size="21.19" font-weight="normal" fill="#555" textLength="16.29" lengthAdjust="spacingAndGlyphs">0</text>
<rect x="882.5" y="1076" width="16" height="13" fill="#B7CD96"/>
<text x="903.66" y="1088.28" font-size="22.60" font-weight="normal" fill="#555" textLength="44.38" lengthAdjust="spacingAndGlyphs">200</text>
<rect x="882.5" y="1129.5" width="16" height="13" fill="#9CBD57"/>
<text x="904.40" y="1142.78" font-size="22.60" font-weight="normal" fill="#555" textLength="43.62" lengthAdjust="spacingAndGlyphs">400</text>
<rect x="882.5" y="1184" width="16" height="13" fill="#87A84C"/>
<text x="903.94" y="1196.28" font-size="22.60" font-weight="normal" fill="#555" textLength="44.09" lengthAdjust="spacingAndGlyphs">500</text>
<rect x="882.5" y="1237.5" width="16" height="13" fill="#6D8B39"/>
<text x="905.06" y="1251.78" font-size="22.60" font-weight="normal" fill="#555" textLength="56.74" lengthAdjust="spacingAndGlyphs">1000</text>
</svg></body></html>
